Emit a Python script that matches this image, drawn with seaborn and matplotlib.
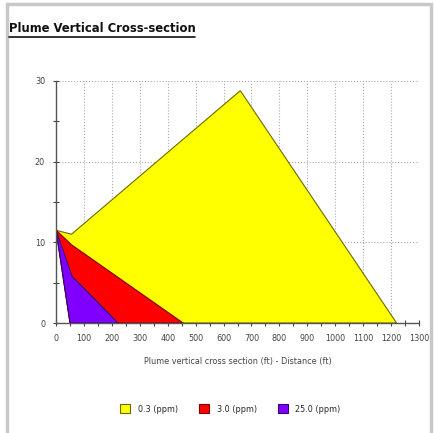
import matplotlib
matplotlib.use("Agg")
import matplotlib.pyplot as plt
import seaborn as sns
from matplotlib.patches import Patch, Rectangle
from matplotlib.lines import Line2D

# concentration polygons (x in ft, y in ft)
levels = ["0.3 (ppm)", "3.0 (ppm)", "25.0 (ppm)"]
colors = ["#FFFF00", "#FF0000", "#7F00FF"]
edges = ["#6b6b00", "#7a0000", "#3a0070"]

yellow_x = [0, 55, 660, 1220, 50]
yellow_y = [11.5, 11.0, 28.8, 0, 0]
red_x = [0, 55, 455, 50]
red_y = [11.5, 9.7, 0, 0]
purple_x = [0, 57, 222, 50]
purple_y = [11.5, 5.8, 0, 0]

x_ticks = list(range(0, 1400, 100))
y_ticks = [0, 10, 20, 30]

sns.set_theme(style="white")
plt.rcParams['font.family'] = ['DejaVu Sans']
plt.rcParams['font.stretch'] = 'condensed'

fig = plt.figure(figsize=(4.35, 4.33), dpi=100)
ax = fig.add_axes([0.129, 0.254, 0.834, 0.559])

polys = [(yellow_x, yellow_y), (red_x, red_y), (purple_x, purple_y)]
for (px, py), c, e in zip(polys, colors, edges):
    ax.fill(px, py, facecolor=c, edgecolor=e, linewidth=0.8, zorder=3)

ax.set_xlim(0, 1300)
ax.set_ylim(0, 30)
ax.set_xticks(x_ticks)
ax.set_yticks(y_ticks)
ax.set_xticks(range(50, 1300, 50), minor=True)
ax.set_yticks([5, 15, 25], minor=True)
ax.tick_params(axis="both", which="both", direction="inout", length=4, width=0.8,
               color="#444444", labelsize=6.5, labelcolor="#444444", pad=6,
               bottom=True, left=True)
ax.grid(True, which="major", linestyle=":", color="#aaaaaa", linewidth=0.8, zorder=0)
sns.despine(ax=ax)
for s in ["left", "bottom"]:
    ax.spines[s].set_color("#555555")
    ax.spines[s].set_linewidth(1.0)
    ax.spines[s].set_zorder(4)

ax.set_xlabel("Plume vertical cross section (ft) - Distance (ft)", fontsize=6.5,
              color="#444444", labelpad=10)

# title with underline
t = fig.text(0.02, 0.925, "Plume Vertical Cross-section", fontsize=9.3,
             fontweight="bold", color="#111111", ha="left", va="baseline")
fig.canvas.draw()
bb = t.get_window_extent().transformed(fig.transFigure.inverted())
fig.add_artist(Line2D([bb.x0, bb.x1], [bb.y0 - 0.004, bb.y0 - 0.004],
                      transform=fig.transFigure, color="#111111", linewidth=1.2))

handles = [Patch(facecolor=c, edgecolor=e, linewidth=0.8) for c, e in zip(colors, edges)]
fig.legend(handles, levels, loc="center", bbox_to_anchor=(0.53, 0.055), ncol=3,
           frameon=False, fontsize=6.5, handlelength=1.1, handleheight=1.1,
           columnspacing=2.4, handletextpad=0.8)

# outer panel frame
fig.add_artist(Rectangle((0.015, -0.02), 0.975, 1.01, transform=fig.transFigure,
                         fill=False, edgecolor="#c8c8c8", linewidth=2.5))

fig.savefig("out.png", dpi=100)
